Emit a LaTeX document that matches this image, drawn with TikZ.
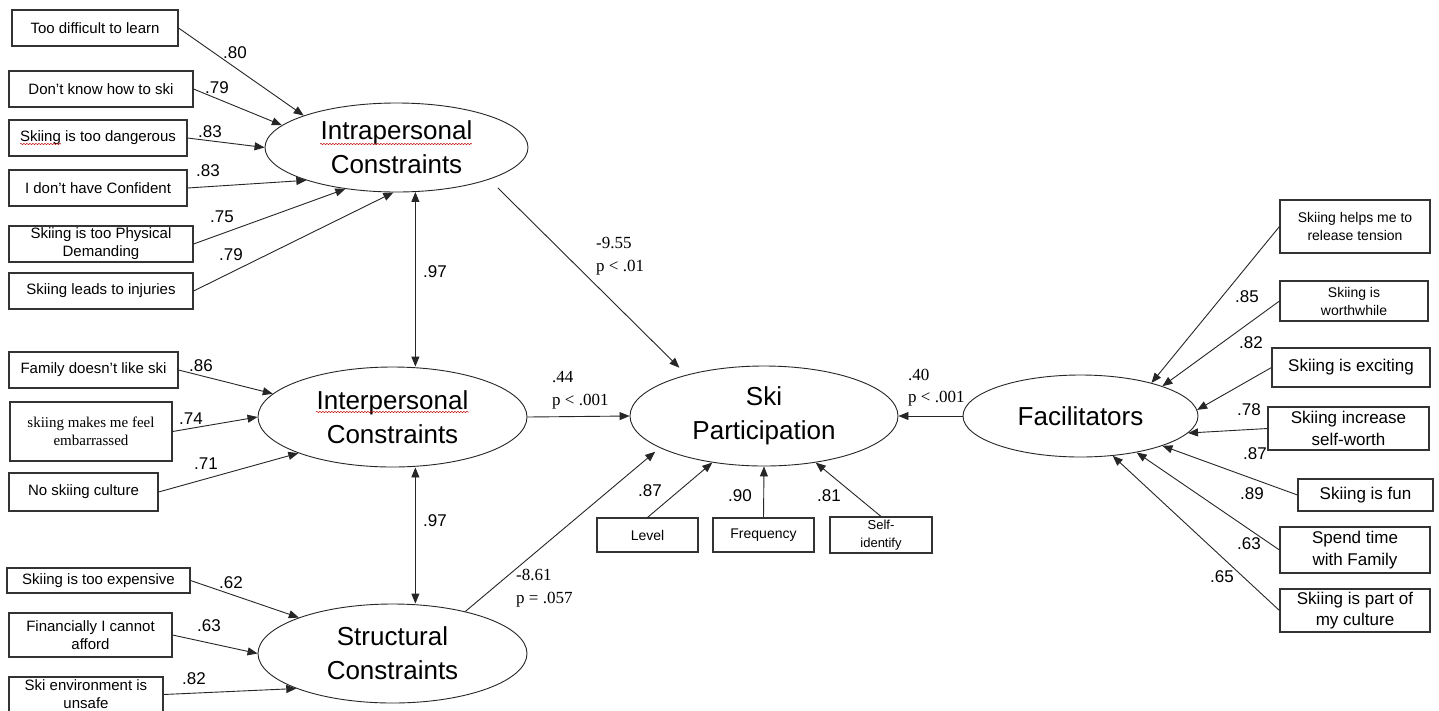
\documentclass[tikz,border=0pt]{standalone}
\usepackage{fontspec}
\setmainfont{Liberation Sans}
\newfontfamily\timesf{Liberation Serif}
\usetikzlibrary{arrows.meta,shapes.geometric,decorations.pathmorphing}

\tikzset{
  box/.style={draw=black!80, line width=1.1pt, rectangle, inner sep=0pt, align=center},
  latent/.style={draw=black!85, line width=0.9pt, ellipse, inner sep=0pt, align=center,
    font=\fontsize{26}{34}\selectfont},
  tip/.tip={Triangle[length=10pt,width=8pt]},
  arr/.style={draw=black!85, line width=0.9pt, -tip},
  dbl/.style={draw=black!85, line width=0.9pt, tip-tip},
  coef/.style={font=\fontsize{17}{20}\selectfont, inner sep=0pt},
  pval/.style={font=\timesf\fontsize{17}{22.5}\selectfont, inner sep=0pt, align=left, anchor=west},
  spell/.style={draw=red!75!black, line width=0.5pt, decorate,
    decoration={snake, amplitude=0.6pt, segment length=3pt}},
  fa/.style={font=\fontsize{15}{18}\selectfont},
  fserif/.style={font=\timesf\fontsize{15}{18}\selectfont},
  fsmall/.style={font=\fontsize{14}{18}\selectfont},
  ftiny/.style={font=\fontsize{13}{18}\selectfont},
  fbig/.style={font=\fontsize{17}{21.5}\selectfont},
}

\begin{document}
\begin{tikzpicture}[x=1pt,y=-1pt]
\fill[white] (0,0) rectangle (1439,710);
\useasboundingbox (0,0) rectangle (1439,710);

% ---- latent variables
\node[latent, minimum width=263pt, minimum height=89pt]  (intra)  at (396.5,147.5) {Intrapersonal\\Constraints};
\node[latent, minimum width=269pt, minimum height=100pt] (inter)  at (392.5,417)   {Interpersonal\\Constraints};
\node[latent, minimum width=269pt, minimum height=99pt]  (struct) at (392.5,653.5) {Structural\\Constraints};
\node[latent, minimum width=268pt, minimum height=100pt] (ski)    at (764,416)     {Ski\\Participation};
\node[latent, minimum width=235pt, minimum height=82pt]  (fac)    at (1080.5,416)  {Facilitators};

% ---- intrapersonal indicators
\node[box, fa, minimum width=166pt, minimum height=36pt] (l1) at (95,28)   {Too difficult to learn};
\node[box, fa, minimum width=184pt, minimum height=36pt] (l2) at (101,89)  {Don’t know how to ski};
\node[box, fa, minimum width=178pt, minimum height=36pt] (l3) at (98,138)  {Skiing is too dangerous};
\node[box, fa, minimum width=178pt, minimum height=36pt] (l4) at (98,188)  {I don’t have Confident};
\node[box, fa, minimum width=184pt, minimum height=36pt] (l5) at (101,244) {Skiing is too Physical\\Demanding};
\node[box, fa, minimum width=184pt, minimum height=36pt] (l6) at (101,291) {Skiing leads to injuries};

% ---- interpersonal indicators
\node[box, fa,     minimum width=169pt, minimum height=36pt] (l7) at (93.5,370)  {Family doesn’t like ski};
\node[box, fserif, minimum width=162pt, minimum height=59pt] (l8) at (91,431.5)  {skiing makes me feel\\embarrassed};
\node[box, fa,     minimum width=149pt, minimum height=38pt] (l9) at (83.5,492)  {No skiing culture};

% ---- structural indicators
\node[box, fa, minimum width=183pt, minimum height=25pt] (l10) at (98.5,580.5) {Skiing is too expensive};
\node[box, fa, minimum width=163pt, minimum height=44pt] (l11) at (90.5,635)   {Financially I cannot\\afford};
\node[box, fa, minimum width=154pt, minimum height=35pt] (l12) at (86,694.5)   {Ski environment is\\unsafe};

% ---- participation indicators
\node[box, fsmall, minimum width=101pt, minimum height=34pt] (level) at (647.5,535) {Level};
\node[box, fsmall, minimum width=101pt, minimum height=34pt] (freq)  at (763.5,535) {Frequency};
\node[box, ftiny,  minimum width=102pt, minimum height=36pt] (self)  at (881,535)   {Self-\\identify};

% ---- facilitator indicators
\node[box, fsmall, minimum width=150pt, minimum height=53pt] (r1) at (1355,226.5)  {Skiing helps me to\\release tension};
\node[box, fsmall, minimum width=148pt, minimum height=40pt] (r2) at (1354,301)    {Skiing is\\worthwhile};
\node[box, fbig,   minimum width=158pt, minimum height=39pt] (r3) at (1351,367.5)  {Skiing is exciting};
\node[box, fbig,   minimum width=161pt, minimum height=43pt] (r4) at (1348.5,428.5){Skiing increase\\self-worth};
\node[box, fbig,   minimum width=135pt, minimum height=32pt] (r5) at (1365.5,495)  {Skiing is fun};
\node[box, fbig,   minimum width=150pt, minimum height=46pt] (r6) at (1355,550)    {Spend time\\with Family};
\node[box, fbig,   minimum width=150pt, minimum height=43pt] (r7) at (1355,610.5)  {Skiing is part of\\my culture};

% ---- loadings
\draw[arr] (l1.east) -- (intra.161);
\draw[arr] (l2.east) -- (intra.169);
\draw[arr] (l3.east) -- (intra.180);
\draw[arr] (l4.east) -- (intra.200);
\draw[arr] (l5.east) -- (intra.219);
\draw[arr] (l6.east) -- (intra.266);

\draw[arr] (l7.east) -- (inter.169);
\draw[arr] (l8.east) -- (inter.180);
\draw[arr] (l9.east) -- (inter.201);

\draw[arr] (l10.east) -- (struct.159);
\draw[arr] (l11.east) -- (struct.180);
\draw[arr] (l12.east) -- (struct.200);

\draw[arr] (level.north) -- (ski.222);
\draw[arr] (freq.north)  -- (ski.south);
\draw[arr] (self.north)  -- (ski.318);

\draw[arr] (r1.west) -- (fac.25);
\draw[arr] (r2.west) -- (fac.20);
\draw[arr] (r3.west) -- (fac.3);
\draw[arr] (r4.west) -- (fac.351);
\draw[arr] (r5.west) -- (fac.340);
\draw[arr] (r6.west) -- (fac.327);
\draw[arr] (r7.west) -- (fac.309);

% ---- correlations between constraints
\draw[dbl] (intra.293) -- (intra.293 |- inter.north);
\draw[dbl] (intra.293 |- inter.south) -- (intra.293 |- struct.north);

% ---- structural paths
\draw[arr, shorten <=12pt, shorten >=10pt] (intra.341) -- (ski.152);
\draw[arr] (inter.east) -- (ski.west);
\draw[arr, shorten >=6pt] (struct.30) -- (ski.197);
\draw[arr] (fac.west) -- (ski.east);

% ---- coefficient labels
\node[coef] (c1)  at (235,53)  {.80};
\node[coef] (c2)  at (217,88)  {.79};
\node[coef] (c3)  at (210,132) {.83};
\node[coef] (c4)  at (208,171) {.83};
\node[coef] (c5)  at (222,217) {.75};
\node[coef] (c6)  at (231,255) {.79};
\node[coef] (c7)  at (435,272) {.97};
\node[coef] (c8)  at (201,366) {.86};
\node[coef] (c9)  at (191,419) {.74};
\node[coef] (c10) at (206,464) {.71};
\node[coef] (c11) at (435,521) {.97};
\node[coef] (c12) at (231,583) {.62};
\node[coef] (c13) at (209,626) {.63};
\node[coef] (c14) at (194,679) {.82};
\node[coef] (c15) at (650,491) {.87};
\node[coef] (c16) at (740,496) {.90};
\node[coef] (c17) at (829,496) {.81};
\node[coef] (c18) at (1247,297) {.85};
\node[coef] (c19) at (1251,343) {.82};
\node[coef] (c20) at (1249,410) {.78};
\node[coef] (c21) at (1255,454) {.87};
\node[coef] (c22) at (1252,494) {.89};
\node[coef] (c23) at (1249,544) {.63};
\node[coef] (c24) at (1222,577) {.65};

\node[pval] (p1) at (596,256)   {-9.55\\p < .01};
\node[pval] (p2) at (552,390)   {.44\\p < .001};
\node[pval] (p3) at (908,387.5) {.40\\p < .001};
\node[pval] (p4) at (516,588)   {-8.61\\p = .057};

% ---- proofing squiggles under flagged words
\draw[spell] (320,144) -- (472,144);
\draw[spell] (316,412) -- (469,412);
\draw[spell] (20,144) -- (61,144);
\end{tikzpicture}
\end{document}
